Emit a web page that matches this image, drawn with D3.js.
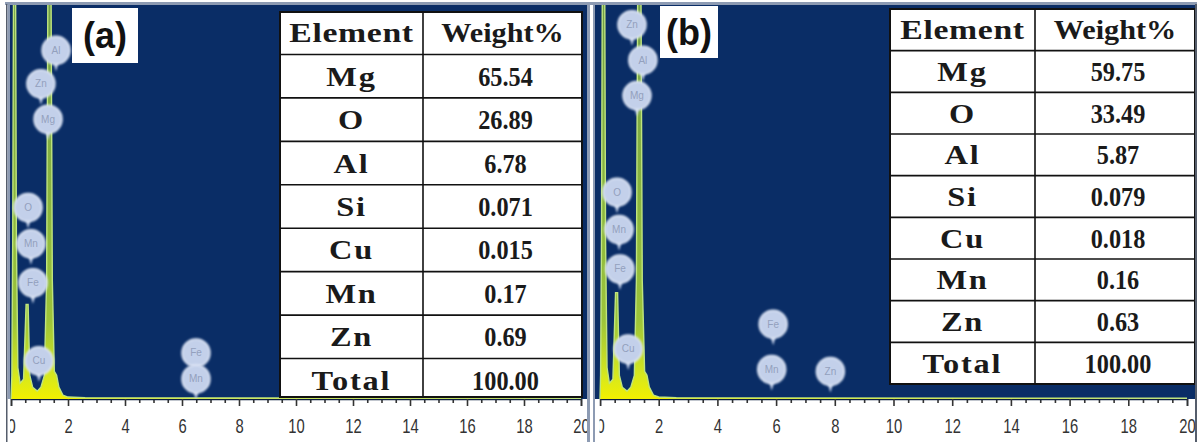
<!DOCTYPE html>
<html>
<head>
<meta charset="utf-8">
<script src="https://cdn.jsdelivr.net/npm/d3@7"></script>
<style>
  html, body { margin: 0; padding: 0; background: #ffffff; }
  svg { display: block; }
</style>
</head>
<body>
<svg id="chart" width="1199" height="442"></svg>
<script>
// Energy axis tick labels (keV) and minor tick step
const energyTicks = [0, 2, 4, 6, 8, 10, 12, 14, 16, 18, 20];
const minorStep = 0.5;

// EDS spectrum (a): energy (keV) and counts on a 0–100 display scale (values > 100 run off the top)
const keV_A    = [0, 0.03, 0.06, 0.10, 0.15, 0.19, 0.24, 0.32, 0.44, 0.53, 0.60, 0.66, 0.76, 0.92, 1.05, 1.17, 1.25, 1.31, 1.39, 1.45, 1.52, 1.60, 1.68, 1.82, 2.0, 2.6, 20];
const counts_A = [0, 6,    40,   130,  130,  40,   8,    4,    5,    24,   24,   6,    3,    2,    3,    6,    30,   130,  130,  30,   7,    6,    3,    1,    0.5, 0.3, 0.2];

// EDS spectrum (b)
const keV_B    = [0, 0.02, 0.05, 0.09, 0.15, 0.19, 0.24, 0.32, 0.44, 0.53, 0.60, 0.66, 0.76, 0.92, 1.05, 1.17, 1.24, 1.30, 1.38, 1.44, 1.52, 1.60, 1.68, 1.82, 2.0, 2.6, 20];
const counts_B = [0, 6,    40,   130,  130,  40,   8,    4,    5,    27,   27,   6,    3,    2,    3,    6,    30,   130,  130,  30,   7,    6,    3,    1,    0.5, 0.3, 0.2];

// Element markers: symbol, energy (keV) and height on the count scale
const markerEl_A    = ["Al", "Zn", "Mg", "O", "Mn", "Fe", "Cu", "Fe", "Mn"];
const markerKeV_A   = [1.58, 1.05, 1.30, 0.60, 0.70, 0.77, 0.98, 6.49, 6.49];
const markerLevel_A = [88.5, 80, 71, 48.6, 39.4, 29.5, 9.7, 11.7, 5.1];

const markerEl_B    = ["Zn", "Al", "Mg", "O", "Mn", "Fe", "Cu", "Fe", "Mn", "Zn"];
const markerKeV_B   = [1.09, 1.46, 1.26, 0.58, 0.65, 0.68, 0.96, 5.9, 5.85, 7.85];
const markerLevel_B = [95, 86, 77, 52.5, 43, 33, 12.7, 19, 7.5, 7];

// Composition tables
const headers  = ["Element", "Weight%"];
const elements = ["Mg", "O", "Al", "Si", "Cu", "Mn", "Zn", "Total"];
const weight_A = ["65.54", "26.89", "6.78", "0.071", "0.015", "0.17", "0.69", "100.00"];
const weight_B = ["59.75", "33.49", "5.87", "0.079", "0.018", "0.16", "0.63", "100.00"];
const panelTags = ["(a)", "(b)"];

// ---------------------------------------------------------------------------
const svg = d3.select("#chart");
const defs = svg.append("defs");

defs.append("filter").attr("id", "soft")
  .attr("x", "-30%").attr("y", "-30%").attr("width", "160%").attr("height", "160%")
  .append("feGaussianBlur").attr("stdDeviation", 0.9);

const BG = "#0a2d66";

const layout = [
  { left: 8, right: 588, top: 5, bottom: 399, ax0: 11, ax1: 581, clipL: 10, clipR: 587,
    tag: { x: 72, y: 8, w: 66, h: 55 },
    table: { x: 280, y: 12, w: 302, bottom: 397, rows: [11, 402], split: 143 } },
  { left: 594, right: 1196, top: 5, bottom: 399, ax0: 600, ax1: 1187, clipL: 599.5, clipR: 1195,
    tag: { x: 660, y: 6, w: 58, h: 52 },
    table: { x: 890, y: 9, w: 305, bottom: 384, rows: [9, 384], split: 145 } }
];

const panels = [
  { keV: keV_A, counts: counts_A, mEl: markerEl_A, mKeV: markerKeV_A, mLev: markerLevel_A, weights: weight_A },
  { keV: keV_B, counts: counts_B, mEl: markerEl_B, mKeV: markerKeV_B, mLev: markerLevel_B, weights: weight_B }
];

// page frame
svg.append("rect").attr("x", 0).attr("y", 0).attr("width", 1199).attr("height", 442).attr("fill", "#ffffff");
svg.append("rect").attr("x", 5).attr("y", 2).attr("width", 1192).attr("height", 3).attr("fill", "#8d9bb3");

panels.forEach((p, i) => {
  const L = layout[i];
  const g = svg.append("g");

  const clipId = "clip" + i;
  defs.append("clipPath").attr("id", clipId)
    .append("rect").attr("x", L.clipL).attr("y", L.bottom).attr("width", L.clipR - L.clipL).attr("height", 442 - L.bottom);
  const plotClip = "plotclip" + i;
  defs.append("clipPath").attr("id", plotClip)
    .append("rect").attr("x", L.left).attr("y", L.top).attr("width", L.right - L.left).attr("height", L.bottom - L.top);

  const x = d3.scaleLinear().domain([0, 20]).range([L.ax0, L.ax1]);
  const y = d3.scaleLinear().domain([0, 100]).range([L.bottom, L.top]);

  // spectrum background
  g.append("rect").attr("x", L.left).attr("y", L.top)
    .attr("width", L.right - L.left).attr("height", L.bottom - L.top).attr("fill", BG);

  // spectrum fill gradient: yellow at the baseline, green up the peaks
  const gradId = "peakfill" + i;
  const grad = defs.append("linearGradient").attr("id", gradId)
    .attr("gradientUnits", "userSpaceOnUse")
    .attr("x1", 0).attr("x2", 0).attr("y1", L.bottom).attr("y2", L.top);
  [[0, "#f2f000"], [0.06, "#d6e81e"], [0.2, "#9cc43a"], [1, "#6f9e48"]].forEach(s =>
    grad.append("stop").attr("offset", s[0]).attr("stop-color", s[1]));

  const pts = p.keV.map((k, j) => [k, p.counts[j]]);
  const area = d3.area().x(d => x(d[0])).y0(y(0)).y1(d => y(d[1]));
  const line = d3.line().x(d => x(d[0])).y(d => y(d[1]));

  const spec = g.append("g").attr("clip-path", `url(#${plotClip})`);
  spec.append("path").datum(pts).attr("d", area).attr("fill", `url(#${gradId})`);
  spec.append("path").datum(pts).attr("d", line)
    .attr("fill", "none").attr("stroke", "#bfe47e").attr("stroke-width", 1.4);

  // element markers
  const markers = spec.selectAll("g.marker")
    .data(p.mEl.map((el, j) => ({ el, k: p.mKeV[j], v: p.mLev[j] })))
    .join("g").attr("class", "marker")
    .attr("transform", d => `translate(${x(d.k)},${y(d.v)})`);
  markers.append("path")
    .attr("d", "M-3,11 L0,21 L3,11 Z").attr("fill", "#c9d5ec").attr("filter", "url(#soft)");
  markers.append("circle").attr("r", 14)
    .attr("fill", "#c3d0ea").attr("stroke", "#e2e9f7").attr("stroke-width", 1.5)
    .attr("filter", "url(#soft)");
  markers.append("text").text(d => d.el)
    .attr("text-anchor", "middle").attr("dy", "0.35em")
    .attr("font-family", "Liberation Sans, Arial, sans-serif").attr("font-size", 10)
    .attr("fill", "#93a0bd");

  // panel tag
  g.append("rect").attr("x", L.tag.x).attr("y", L.tag.y).attr("width", L.tag.w).attr("height", L.tag.h)
    .attr("fill", "#ffffff");
  g.append("text").text(panelTags[i])
    .attr("x", L.tag.x + L.tag.w / 2).attr("y", L.tag.y + L.tag.h / 2).attr("dy", "0.36em")
    .attr("text-anchor", "middle")
    .attr("font-family", "Liberation Sans, Arial, sans-serif").attr("font-weight", "bold").attr("font-size", 36)
    .attr("fill", "#111111");

  // composition table
  const T = L.table;
  const rows = d3.scaleBand().domain(d3.range(elements.length + 1)).range(T.rows);
  const tg = g.append("g");
  tg.append("rect").attr("x", T.x).attr("y", T.y).attr("width", T.w).attr("height", T.bottom - T.y)
    .attr("fill", "#ffffff").attr("stroke", "#111111").attr("stroke-width", 2);
  tg.selectAll("line.row").data(d3.range(1, elements.length + 1)).join("line")
    .attr("x1", T.x).attr("x2", T.x + T.w).attr("y1", d => rows(d)).attr("y2", d => rows(d))
    .attr("stroke", "#111111").attr("stroke-width", 1.6);
  tg.append("line").attr("x1", T.x + T.split).attr("x2", T.x + T.split)
    .attr("y1", T.y).attr("y2", T.bottom).attr("stroke", "#111111").attr("stroke-width", 1.6);

  const c1 = T.x + T.split / 2;
  const c2 = T.x + T.split + (T.w - T.split) / 2 + 3;
  const cellText = (str, cx, r, sx) => tg.append("text").text(str)
    .attr("transform", `translate(${cx},${rows(r) + rows.bandwidth() / 2}) scale(${sx},1)`)
    .attr("dy", "0.35em").attr("text-anchor", "middle")
    .attr("font-family", "Liberation Serif, Times New Roman, serif").attr("font-weight", "bold")
    .attr("font-size", 27).attr("fill", "#1a1a1a");

  cellText(headers[0], c1, 0, 1.25).attr("letter-spacing", 0.5);
  cellText(headers[1], c2 - 3, 0, 1.12);
  elements.forEach((el, j) => {
    cellText(el, c1, j + 1, 1.2).attr("letter-spacing", 1.5);
    cellText(p.weights[j], c2, j + 1, 0.9);
  });

  // energy axis strip
  const ag = g.append("g").attr("clip-path", `url(#${clipId})`);
  ag.append("rect").attr("x", L.left).attr("y", L.bottom).attr("width", L.right - L.left)
    .attr("height", 442 - L.bottom).attr("fill", "#ffffff");

  const minor = d3.range(0, 20 + 1e-9, minorStep).filter(v => !energyTicks.includes(v));
  ag.append("g").attr("transform", `translate(0,${L.bottom})`)
    .call(d3.axisBottom(x).tickValues(minor).tickSize(4).tickFormat(""))
    .call(s => s.select(".domain").remove())
    .call(s => s.selectAll("line").attr("stroke", "#333").attr("stroke-width", 1.6));

  const major = ag.append("g").attr("transform", `translate(0,${L.bottom})`)
    .call(d3.axisBottom(x).tickValues(energyTicks).tickSize(7).tickPadding(13).tickFormat(d3.format("d")));
  major.select(".domain").attr("stroke", "#0b1d3e").attr("stroke-width", 1.5);
  major.selectAll("line").attr("stroke", "#333").attr("stroke-width", 1.6);
  major.selectAll("text")
    .attr("font-family", "Liberation Sans, Arial, sans-serif").attr("font-size", 20)
    .attr("fill", "#333333").attr("transform", "scale(0.74,1)");
});

// panel borders
svg.append("rect").attr("x", 6).attr("y", 4).attr("width", 1.5).attr("height", 438).attr("fill", "#555d6b");
svg.append("rect").attr("x", 7.5).attr("y", 4).attr("width", 2.5).attr("height", 395).attr("fill", "#8d9bb3");
svg.append("rect").attr("x", 587).attr("y", 4).attr("width", 3).attr("height", 438).attr("fill", "#8d9bb3");
svg.append("rect").attr("x", 593).attr("y", 4).attr("width", 2).attr("height", 438).attr("fill", "#8d9bb3");
svg.append("rect").attr("x", 1195).attr("y", 4).attr("width", 2).attr("height", 438).attr("fill", "#555d6b");
</script>
</body>
</html>
